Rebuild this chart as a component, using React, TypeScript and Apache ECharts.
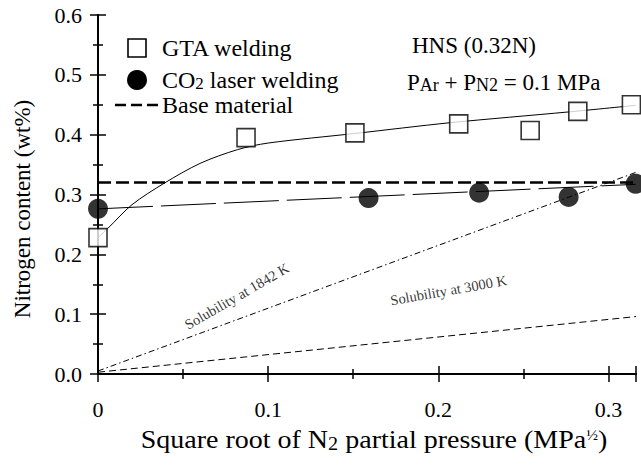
import React, { useEffect, useRef } from "react";
import * as echarts from "echarts";

const X_MAX = 0.3162;
const xTicks = [0, 0.1, 0.2, 0.3];
const yTicks = [0, 0.1, 0.2, 0.3, 0.4, 0.5, 0.6];
const xAxisTitle = "{t|Square root of N}{sub|2}{t| partial pressure (MPa}{sup|½}{t|)}";
const yAxisTitle = "{t|Nitrogen content (wt%)}";

// Measured points
const gtaPoints: [number, number][] = [
  [0, 0.228],
  [0.087, 0.395],
  [0.151, 0.403],
  [0.212, 0.418],
  [0.254, 0.407],
  [0.282, 0.439],
  [0.3135, 0.45],
];
const co2Points: [number, number][] = [
  [0, 0.276],
  [0.159, 0.294],
  [0.224, 0.303],
  [0.2766, 0.296],
  [0.316, 0.318],
];
// Fitted curves
const gtaFit: [number, number][] = [
  [0, 0.228],
  [0.006, 0.244],
  [0.02, 0.283],
  [0.039, 0.319],
  [0.06, 0.352],
  [0.082, 0.375],
  [0.1, 0.386],
  [0.151, 0.402],
  [0.207, 0.42],
  [0.2766, 0.438],
  [0.316, 0.449],
];
const co2Fit: [number, number][] = [
  [0, 0.276],
  [0.316, 0.317],
];
const baseMaterial: [number, number][] = [
  [0, 0.32],
  [X_MAX, 0.32],
];
const sol1842: [number, number][] = [
  [0, 0.005],
  [X_MAX, 0.337],
];
const sol3000: [number, number][] = [
  [0, 0.003],
  [X_MAX, 0.096],
];
const annotations = [
  { value: [0.0816, 0.13], text: "Solubility at 1842 K", rotate: 30 },
  { value: [0.206, 0.14], text: "Solubility at 3000 K", rotate: 10 },
];

const SERIF = "Liberation Serif";

export default function App() {
  const ref = useRef<HTMLDivElement>(null);
  useEffect(() => {
    if (!ref.current) return;
    const chart = echarts.init(ref.current, undefined, { renderer: "svg" });
    const axisLine = { show: true, lineStyle: { color: "#000", width: 2 } };
    const tick = { show: true, inside: true, length: 8, lineStyle: { color: "#000", width: 1.5 } };
    const minor = { show: true, splitNumber: 2, length: 5, lineStyle: { color: "#000", width: 1.5 } };
    const richSet = (size: number, subSize: number, subPad: number) => ({
      t: { fontFamily: SERIF, fontSize: size, fill: "#000", color: "#000" },
      sub: { fontFamily: SERIF, fontSize: subSize, padding: [subPad, 0, 0, 0], fill: "#000", color: "#000" },
      sup: { fontFamily: SERIF, fontSize: 14, padding: [0, 0, 10, 0], fill: "#000", color: "#000" },
    });
    const txt = (text: string, x: number, y: number, size: number, subSize = 17, subPad = 7, extra: any = {}) => {
      const { styleExtra, ...rest } = extra;
      return {
        type: "text",
        x,
        y,
        ...rest,
        style: {
          text,
          fontFamily: SERIF,
          fontSize: size,
          fill: "#000",
          verticalAlign: "middle",
          rich: richSet(size, subSize, subPad),
          ...(styleExtra || {}),
        },
      };
    };
    const labelRich = { t: { fontFamily: SERIF, fontSize: 22, color: "#000" } };
    const option: any = {
      animation: false,
      backgroundColor: "#fff",
      textStyle: { fontFamily: SERIF },
      grid: { left: 98, right: 5, top: 15, bottom: 92, containLabel: false },
      xAxis: [
        {
          type: "value",
          min: 0,
          max: X_MAX,
          interval: 0.1,
          position: "bottom",
          axisLine,
          axisTick: tick,
          minorTick: minor,
          splitLine: { show: false },
          axisLabel: {
            color: "#000",
            fontSize: 22,
            fontFamily: SERIF,
            margin: 24,
            rich: labelRich,
            formatter: (v: number) => {
              const t = xTicks.find((x) => Math.abs(x - v) < 1e-6);
              if (t === undefined) return "";
              return "{t|" + (t === 0 ? "0" : t.toFixed(1)) + "}";
            },
          },
        },
        {
          type: "value",
          min: 0,
          max: X_MAX,
          interval: 0.1,
          position: "top",
          axisLine,
          axisTick: tick,
          minorTick: minor,
          splitLine: { show: false },
          axisLabel: { show: false },
        },
      ],
      yAxis: [
        {
          type: "value",
          min: 0,
          max: 0.6,
          interval: 0.1,
          position: "left",
          axisLine,
          axisTick: tick,
          minorTick: minor,
          splitLine: { show: false },
          axisLabel: {
            color: "#000",
            fontSize: 22,
            fontFamily: SERIF,
            margin: 16,
            rich: labelRich,
            formatter: (v: number) => {
              const t = yTicks.find((y) => Math.abs(y - v) < 1e-6);
              return t === undefined ? "" : "{t|" + t.toFixed(1) + "}";
            },
          },
        },
        {
          type: "value",
          min: 0,
          max: 0.6,
          interval: 0.1,
          position: "right",
          axisLine,
          axisTick: tick,
          minorTick: minor,
          splitLine: { show: false },
          axisLabel: { show: false },
        },
      ],
      series: [
        {
          name: "Base material",
          type: "line",
          data: baseMaterial,
          symbol: "none",
          lineStyle: { color: "#000", width: 2.5, type: [13, 5] },
        },
        {
          name: "Solubility at 1842 K",
          type: "line",
          data: sol1842,
          symbol: "none",
          lineStyle: { color: "#000", width: 1, type: [6, 3, 1.5, 3] },
        },
        {
          name: "Solubility at 3000 K",
          type: "line",
          data: sol3000,
          symbol: "none",
          lineStyle: { color: "#000", width: 1, type: [7, 4] },
        },
        {
          name: "GTA fit",
          type: "line",
          data: gtaFit,
          symbol: "none",
          smooth: 0.3,
          lineStyle: { color: "#000", width: 1 },
        },
        {
          name: "CO2 fit",
          type: "line",
          data: co2Fit,
          symbol: "none",
          lineStyle: { color: "#000", width: 1, type: [55, 8] },
        },
        {
          name: "GTA welding",
          type: "scatter",
          data: gtaPoints,
          symbol: "rect",
          symbolSize: 18,
          itemStyle: { color: "#fff", borderColor: "#000", borderWidth: 1.6 },
          z: 5,
        },
        {
          name: "CO2 laser welding",
          type: "scatter",
          data: co2Points,
          symbol: "circle",
          symbolSize: 20,
          itemStyle: { color: "#000" },
          z: 5,
        },
        {
          name: "annotations",
          type: "scatter",
          symbolSize: 0,
          silent: true,
          data: annotations.map((a) => ({
            value: a.value,
            label: {
              show: true,
              position: "inside",
              formatter: "{t|" + a.text + "}",
              rotate: a.rotate,
              fontSize: 14.5,
              fontFamily: SERIF,
              color: "#000",
              rich: { t: { fontFamily: SERIF, fontSize: 14.5, color: "#000" } },
            },
          })),
          z: 6,
        },
      ],
      graphic: [
        // Axis titles
        txt(xAxisTitle, 374, 440, 25, 18, 8, { scaleX: 1.12, styleExtra: { align: "center" } }),
        txt(yAxisTitle, 22, 209, 23, 17, 7, { rotation: Math.PI / 2, styleExtra: { align: "center" } }),
        // Legend
        {
          type: "rect",
          shape: { x: 128, y: 39, width: 18, height: 18 },
          style: { fill: "#fff", stroke: "#000", lineWidth: 1.6 },
        },
        txt("{t|GTA welding}", 162, 48, 24),
        {
          type: "circle",
          shape: { cx: 137, cy: 80, r: 10 },
          style: { fill: "#000" },
        },
        txt("{t|CO}{sub|2}{t| laser welding}", 162, 80, 24),
        {
          type: "line",
          shape: { x1: 115, y1: 105, x2: 161, y2: 105 },
          style: { stroke: "#000", lineWidth: 2.5, lineDash: [11, 5] },
        },
        txt("{t|Base material}", 162, 105, 24),
        // Conditions
        txt("{t|HNS (0.32N)}", 412, 45, 23),
        txt("{t|P}{sub|Ar}{t| + P}{sub|N2}{t| = 0.1 MPa}", 407, 82, 23, 18, 5),
      ],
    };
    chart.setOption(option);
    return () => chart.dispose();
  }, []);
  return <div ref={ref} style={{ position: "absolute", left: 0, top: 0, width: 641, height: 466 }} />;
}
